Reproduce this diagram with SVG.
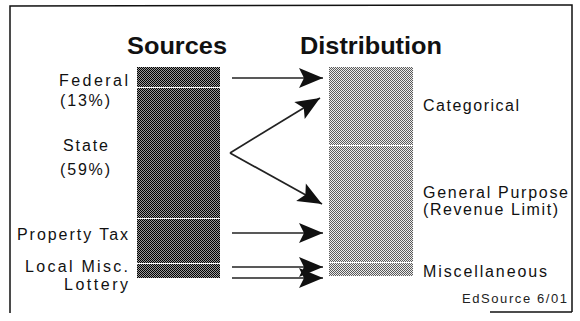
<svg xmlns="http://www.w3.org/2000/svg" width="580" height="321" viewBox="0 0 580 321">
  <style>
    .title { font-family: "Liberation Sans", Arial, sans-serif; font-weight: bold; font-size: 24px; fill: #111; }
    .lbl { font-family: "Liberation Sans", Arial, sans-serif; font-size: 16px; fill: #111; }
    .small { font-family: "Liberation Sans", Arial, sans-serif; font-size: 13px; fill: #222; }
    .frame { stroke: #111; stroke-width: 1.5; fill: none; }
    .conn { stroke: #222; stroke-width: 1.7; fill: none; marker-end: url(#head); }
  </style>
  <defs>
    <pattern id="darkDither" width="2" height="2" patternUnits="userSpaceOnUse">
      <rect width="2" height="2" fill="#9a9a9a"/>
      <rect width="1" height="1" fill="#000"/>
      <rect x="1" y="1" width="1" height="1" fill="#000"/>
    </pattern>
    <pattern id="lightDither" width="2" height="2" patternUnits="userSpaceOnUse">
      <rect width="2" height="2" fill="#ececec"/>
      <rect width="1" height="1" fill="#5a5a5a"/>
      <rect x="1" y="1" width="1" height="1" fill="#5a5a5a"/>
    </pattern>
    <marker id="head" viewBox="0 0 26 22" refX="25" refY="11" markerWidth="26" markerHeight="22" markerUnits="userSpaceOnUse" orient="auto">
      <path d="M25,11 L1,1 L6,11 L1,21 Z" fill="#111"/>
    </marker>
  </defs>

  <!-- frame -->
  <g id="frame">
    <path class="frame" d="M10,313 L10,6 L572,5 L572,312"/>
    <path class="frame" d="M490,312 L572,312"/>
  </g>

  <!-- titles -->
  <text class="title" x="127" y="54" textLength="100" lengthAdjust="spacingAndGlyphs">Sources</text>
  <text class="title" x="300" y="54" textLength="142" lengthAdjust="spacingAndGlyphs">Distribution</text>

  <!-- source nodes -->
  <g id="src-federal">
    <rect x="137" y="67" width="83" height="20" fill="url(#darkDither)"/>
    <text class="lbl" x="59" y="86" textLength="69" lengthAdjust="spacing">Federal</text>
    <text class="lbl" x="60" y="106" textLength="50" lengthAdjust="spacing">(13%)</text>
  </g>
  <g id="src-state">
    <rect x="137" y="88" width="83" height="130" fill="url(#darkDither)"/>
    <text class="lbl" x="63" y="151" textLength="45" lengthAdjust="spacing">State</text>
    <text class="lbl" x="60" y="175" textLength="50" lengthAdjust="spacing">(59%)</text>
  </g>
  <g id="src-property">
    <rect x="137" y="219" width="83" height="44" fill="url(#darkDither)"/>
    <text class="lbl" x="17" y="240" textLength="111" lengthAdjust="spacing">Property Tax</text>
  </g>
  <g id="src-local">
    <rect x="137" y="264" width="83" height="14" fill="url(#darkDither)"/>
    <text class="lbl" x="25" y="272" textLength="103" lengthAdjust="spacing">Local Misc.</text>
    <text class="lbl" x="64" y="290" textLength="64" lengthAdjust="spacing">Lottery</text>
  </g>

  <!-- distribution nodes -->
  <g id="dst-categorical">
    <rect x="329" y="67" width="84" height="78" fill="url(#lightDither)"/>
    <text class="lbl" x="423" y="111" textLength="96" lengthAdjust="spacing">Categorical</text>
  </g>
  <g id="dst-general">
    <rect x="329" y="146" width="84" height="116" fill="url(#lightDither)"/>
    <text class="lbl" x="423" y="198" textLength="145" lengthAdjust="spacing">General Purpose</text>
    <text class="lbl" x="423" y="215" textLength="135" lengthAdjust="spacing">(Revenue Limit)</text>
  </g>
  <g id="dst-misc">
    <rect x="329" y="263" width="84" height="13" fill="url(#lightDither)"/>
    <text class="lbl" x="423" y="277" textLength="124" lengthAdjust="spacing">Miscellaneous</text>
  </g>

  <text class="small" x="462" y="303" textLength="105" lengthAdjust="spacing">EdSource 6/01</text>

  <!-- connectors -->
  <g id="connectors">
    <line class="conn" x1="232" y1="78" x2="323" y2="78"/>
    <line class="conn" x1="230" y1="153" x2="320" y2="98"/>
    <line class="conn" x1="230" y1="153" x2="322" y2="204"/>
    <line class="conn" x1="232" y1="233" x2="323" y2="233"/>
    <line class="conn" x1="232" y1="267" x2="323" y2="267"/>
    <line class="conn" x1="232" y1="278" x2="323" y2="278"/>
  </g>
</svg>
